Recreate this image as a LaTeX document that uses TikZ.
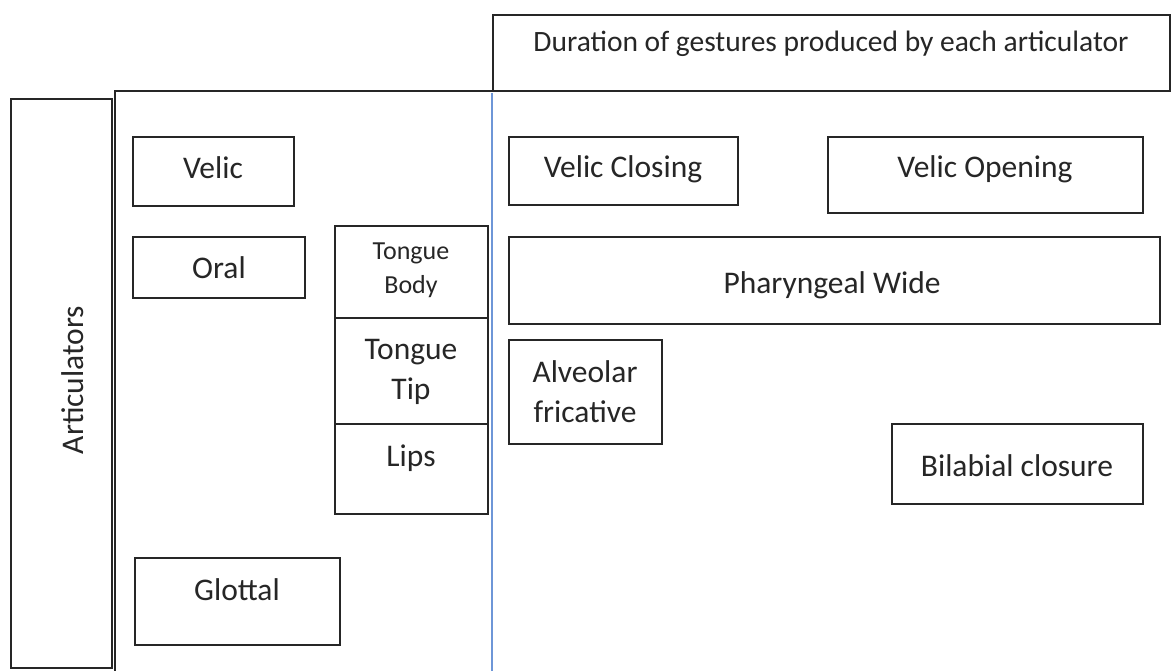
\documentclass[tikz,border=0pt]{standalone}
\usepackage{fontspec}
\setmainfont{Carlito}
\begin{document}
\begin{tikzpicture}[x=1pt,y=-1pt,
  box/.style={draw=black!85,line width=1.8pt,inner sep=0pt,fill=none},
  lbl/.style={inner sep=0pt,font=\fontsize{31.5}{40}\selectfont,text=black!85},
  sml/.style={inner sep=0pt,font=\fontsize{26}{34}\selectfont,text=black!85,align=center},
  big/.style={inner sep=0pt,font=\fontsize{31.5}{40}\selectfont,text=black!85,align=center},
  dur/.style={inner sep=0pt,font=\fontsize{29.5}{36}\selectfont,text=black!85},
  divider/.style={draw=blue!45!cyan!60!black!70,line width=1.6pt}
]
\useasboundingbox[fill=white] (0,0) rectangle (1171,671);
\tikzset{divider/.style={draw={rgb,255:red,110;green,150;blue,215},line width=1.6pt}}

% Articulators
\node[box,minimum width=101pt,minimum height=569pt] (artic) at (61.5,383.5) {};
\node[lbl,rotate=90] (artict) at (73,380) {Articulators};

% main frame
\coordinate (fb) at (115,675);
\coordinate (ftl) at (115,91);
\coordinate (ftr) at (493,91);
\draw[draw=black!85,line width=1.8pt] (fb) -- (ftl) -- (ftr);

% Duration
\node[box,minimum width=677pt,minimum height=76pt] (dur) at (831.5,53) {};
\node[dur,anchor=base] (durt) at (831,52) {Duration of gestures produced by each articulator};

% blue divider
\coordinate (bt) at (492,93);
\coordinate (bb) at (492,675);
\draw[divider] (bt) -- (bb);

% left column
\node[box,minimum width=161pt,minimum height=69pt] (velic) at (213.5,171.5) {};
\node[lbl,anchor=base] (velict) at (213,179) {Velic};
\node[box,minimum width=172pt,minimum height=61pt] (oral) at (219,267.5) {};
\node[lbl,anchor=base] (oralt) at (219,279) {Oral};
\node[box,minimum width=153pt,minimum height=92pt] (tb) at (411.5,272) {};
\node[sml] (tbt) at (411,270) {Tongue\\Body};
\node[box,minimum width=153pt,minimum height=106pt] (tt) at (411.5,371) {};
\node[big] (ttt) at (411,372) {Tongue\\Tip};
\node[box,minimum width=153pt,minimum height=90pt] (lips) at (411.5,469) {};
\node[lbl,anchor=base] (lipst) at (411,466) {Lips};
\node[box,minimum width=205pt,minimum height=87pt] (glot) at (237.5,601.5) {};
\node[lbl,anchor=base] (glott) at (237,600) {Glottal};

% right column
\node[box,minimum width=229pt,minimum height=68pt] (vc) at (623.5,171) {};
\node[lbl,anchor=base] (vct) at (623,178) {Velic Closing};
\node[box,minimum width=315pt,minimum height=76pt] (vo) at (985.5,175) {};
\node[lbl,anchor=base] (vot) at (985,178) {Velic Opening};
\node[box,minimum width=651pt,minimum height=87pt] (ph) at (834.5,280.5) {};
\node[lbl,anchor=base] (pht) at (832,294) {Pharyngeal Wide};
\node[box,minimum width=153pt,minimum height=104pt] (alv) at (585.5,392) {};
\node[big] (alvt) at (585,392) {Alveolar\\fricative};
\node[box,minimum width=251pt,minimum height=80pt] (bil) at (1017.5,464) {};
\node[lbl,anchor=base] (bilt) at (1017,476) {Bilabial closure};
\end{tikzpicture}
\end{document}
